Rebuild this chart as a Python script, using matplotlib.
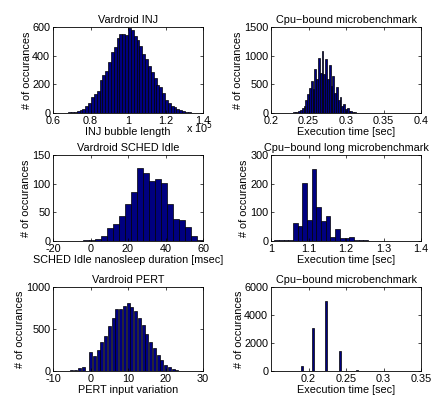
import numpy as np
import matplotlib.pyplot as plt
from matplotlib.ticker import FormatStrFormatter

plt.rcParams['font.family'] = ['Liberation Sans', 'DejaVu Sans']
plt.rcParams['font.size'] = 7.8

# --- data ---
# Vardroid INJ (x in units of 1e5)
inj_start, inj_width = 0.62, 0.0152
inj_counts = [1, 1, 2, 3, 5, 7, 10, 14, 20, 30, 48, 72, 110, 130, 155, 230, 265, 290,
              355, 425, 462, 520, 548, 548, 545, 592, 578, 540, 512, 470, 415, 375,
              330, 285, 243, 192, 178, 140, 88, 70, 52, 40, 28, 20, 13, 8, 5, 3, 2, 1]

# Cpu-bound microbenchmark (top)
cpu_start, cpu_width = 0.205, 0.0024
cpu_counts = [2, 1, 3, 2, 4, 3, 5, 4, 6, 8, 10, 12, 18, 30, 45, 80, 130, 230, 330, 440,
              560, 420, 770, 600, 960, 700, 1090, 680, 950, 600, 830, 470, 640, 350,
              450, 230, 280, 130, 150, 70, 80, 35, 30, 15, 12, 8, 6, 4, 3, 2]

# Vardroid SCHED Idle
sched_start, sched_width = -4.0, 3.2
sched_counts = [2, 2, 4, 9, 23, 30, 44, 64, 85, 127, 119, 105, 108, 102, 65, 39, 36,
                24, 8, 2]

# Cpu-bound long microbenchmark
long_start, long_width = 1.0085, 0.0125
long_counts = [2, 2, 2, 5, 64, 52, 204, 72, 251, 119, 70, 88, 15, 41, 11, 9, 13, 3, 2,
               3, 1, 1, 1, 0, 1]

# Vardroid PERT
pert_x = list(range(-9, 25))
pert_counts = [1, 2, 3, 5, 8, 12, 30, 50, 0, 230, 178, 250, 340, 420, 537, 632, 735,
               743, 775, 814, 763, 711, 636, 545, 435, 348, 277, 190, 130, 71, 51, 24,
               12, 5]

# Cpu-bound microbenchmark (bottom)
cpu2_x = [0.1913, 0.2060, 0.2233, 0.2420, 0.2647]
cpu2_counts = [380, 3100, 4990, 1460, 60]

face = '#000080'

fig = plt.figure(figsize=(4.32, 4.0), dpi=100)
W, H = 432.0, 400.0


def make_axes(x0, y0, x1, y1):
    return fig.add_axes([x0 / W, 1 - y1 / H, (x1 - x0) / W, (y1 - y0) / H])


def style(ax, title, xlabel, xlim, xticks, ylim, yticks, fmt='%g'):
    ax.set_xlim(*xlim)
    ax.set_ylim(*ylim)
    ax.set_xticks(xticks)
    ax.set_yticks(yticks)
    ax.xaxis.set_major_formatter(FormatStrFormatter(fmt))
    ax.set_title(title, pad=3, fontsize=7.8)
    ax.set_xlabel(xlabel, labelpad=1)
    ax.set_ylabel('# of occurances', labelpad=0.5)
    ax.tick_params(direction='in', length=2.5, width=0.5, top=True, right=True, pad=2)
    for s in ax.spines.values():
        s.set_linewidth(0.6)


def hist_bars(ax, start, width, counts):
    centers = start + width * (np.arange(len(counts)) + 0.5)
    ax.bar(centers, counts, width=width, color=face, edgecolor='black', linewidth=0.5)


ax1 = make_axes(53, 27, 203, 113)
hist_bars(ax1, inj_start, inj_width, inj_counts)
style(ax1, 'Vardroid INJ', 'INJ bubble length', (0.6, 1.4), [0.6, 0.8, 1.0, 1.2, 1.4],
      (0, 600), [0, 200, 400, 600])
ax1.text(0.89, -0.08, r'x 10$^{5}$', transform=ax1.transAxes, ha='left', va='top')

ax2 = make_axes(271, 27, 421, 113)
hist_bars(ax2, cpu_start, cpu_width, cpu_counts)
style(ax2, 'Cpu\u2212bound microbenchmark', 'Execution time [sec]', (0.2, 0.4),
      [0.2, 0.25, 0.3, 0.35, 0.4], (0, 1500), [0, 500, 1000, 1500])

ax3 = make_axes(53, 155, 203, 241)
hist_bars(ax3, sched_start, sched_width, sched_counts)
style(ax3, 'Vardroid SCHED Idle', 'SCHED Idle nanosleep duration [msec]', (-20, 60),
      [-20, 0, 20, 40, 60], (0, 150), [0, 50, 100, 150])

ax4 = make_axes(271, 155, 421, 241)
hist_bars(ax4, long_start, long_width, long_counts)
style(ax4, 'Cpu\u2212bound long microbenchmark', 'Execution time [sec]', (1.0, 1.4),
      [1.0, 1.1, 1.2, 1.3, 1.4], (0, 300), [0, 100, 200, 300])

ax5 = make_axes(53, 287, 203, 371)
ax5.bar(pert_x, pert_counts, width=0.8, color=face, edgecolor='black', linewidth=0.5)
style(ax5, 'Vardroid PERT', 'PERT input variation', (-10, 30), [-10, 0, 10, 20, 30],
      (0, 1000), [0, 500, 1000])

ax6 = make_axes(271, 287, 421, 371)
ax6.bar(cpu2_x, cpu2_counts, width=0.0017, color=face, edgecolor='black', linewidth=0.5)
style(ax6, 'Cpu\u2212bound microbenchmark', 'Execution time [sec]', (0.15, 0.35),
      [0.2, 0.25, 0.3, 0.35], (0, 6000), [0, 2000, 4000, 6000])

fig.savefig('out.png', dpi=100)
